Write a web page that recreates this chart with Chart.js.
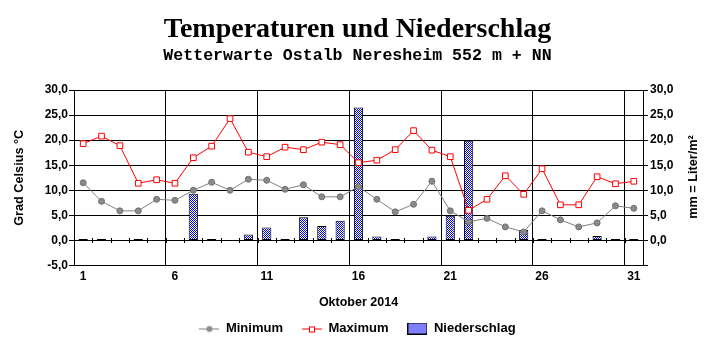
<!DOCTYPE html>
<html>
<head>
<meta charset="utf-8">
<title>Temperaturen und Niederschlag</title>
<script src="https://cdn.jsdelivr.net/npm/chart.js@4.4.1/dist/chart.umd.min.js"></script>
<style>
    body { margin: 0; background: #fff; }
    #wrap { position: relative; width: 715px; height: 352px; }
    #chart { position: absolute; left: 0; top: 0; }
    #title {
        position: absolute; left: 0; top: 14px; width: 715px; text-align: center;
        font: bold 28px/28px "Liberation Serif", "Times New Roman", serif; color: #000;
    }
    #subtitle {
        position: absolute; left: 0; top: 48px; width: 715px; text-align: center;
        font: bold 16.6px/16px "Liberation Mono", "Courier New", monospace; color: #000;
    }
    #rightTitle {
        position: absolute; left: 593px; top: 169px; width: 200px; text-align: center;
        font: bold 12.7px/16px "Liberation Sans", Arial, sans-serif; color: #000;
        transform: rotate(-90deg); transform-origin: 100px 8px;
    }
</style>
</head>
<body>
<div id="wrap">
    <canvas id="chart" width="715" height="352"></canvas>
    <div id="title">Temperaturen und Niederschlag</div>
    <div id="subtitle">Wetterwarte Ostalb Neresheim 552 m + NN</div>
    <div id="rightTitle">mm = Liter/m²</div>
</div>
<script>
// ==========================
// DATA (Oktober 2014)
// ==========================
const days = ["1", "2", "3", "4", "5", "6", "7", "8", "9", "10",
    "11", "12", "13", "14", "15", "16", "17", "18", "19", "20",
    "21", "22", "23", "24", "25", "26", "27", "28", "29", "30", "31"];

const tempMin = [11.5, 7.8, 5.9, 5.9, 8.2, 8.0, 10.0, 11.6, 10.0, 12.2,
    12.0, 10.2, 11.1, 8.7, 8.7, 10.7, 8.2, 5.7, 7.2, 11.8,
    5.9, 3.7, 4.4, 2.7, 1.7, 5.9, 4.1, 2.7, 3.5, 6.9, 6.4];

const tempMax = [19.3, 20.8, 18.9, 11.4, 12.1, 11.4, 16.5, 18.8, 24.3, 17.6,
    16.7, 18.6, 18.1, 19.6, 19.1, 15.5, 16.0, 18.1, 21.9, 18.0,
    16.7, 6.0, 8.2, 12.9, 9.2, 14.3, 7.1, 7.1, 12.7, 11.3, 11.8];

const rain = [0.3, 0.3, 0, 0.3, 0, 0, 9.3, 0.3, 0, 1.2,
    2.6, 0.3, 4.6, 2.9, 3.9, 26.5, 0.8, 0.3, 0, 0.8,
    4.9, 19.9, 0, 0, 2.1, 0.3, 0, 0, 0.9, 0.3, 0.3];

const axisMin = -5;
const axisMax = 30;
const axisStep = 5;

// ==========================
// STYLE HELPERS
// ==========================
const FONT = "'Liberation Sans', Arial, sans-serif";
Chart.defaults.font.family = FONT;
Chart.defaults.font.size = 12;
Chart.defaults.font.weight = "bold";
Chart.defaults.color = "#000";

function dotPattern() {
    let c = document.createElement("canvas");
    c.width = 2;
    c.height = 2;
    let g = c.getContext("2d");
    g.fillStyle = "#fff";
    g.fillRect(0, 0, 2, 2);
    g.fillStyle = "#0000ff";
    g.fillRect(0, 0, 1, 1);
    g.fillRect(1, 1, 1, 1);
    return g.createPattern(c, "repeat");
}
const rainFill = dotPattern();

// small legend pictures: line with marker, and hatched box
function legendIcon(kind) {
    let c = document.createElement("canvas");
    c.width = 20;
    c.height = 12;
    let g = c.getContext("2d");
    if (kind === "box") {
        g.fillStyle = "#000";
        g.fillRect(0, 0, 20, 12);
        g.fillStyle = rainFill;
        g.fillRect(1, 1, 18, 10);
        return c;
    }
    let col = kind === "min" ? "#808080" : "#ff0000";
    g.strokeStyle = col;
    g.lineWidth = 1;
    g.beginPath();
    g.moveTo(0, 6.5);
    g.lineTo(20, 6.5);
    g.stroke();
    if (kind === "min") {
        g.fillStyle = "#8a8a8a";
        g.beginPath();
        g.arc(10, 6.5, 3, 0, Math.PI * 2);
        g.fill();
    } else {
        g.fillStyle = "#fff";
        g.fillRect(7, 4, 6, 6);
        g.strokeRect(7.5, 4.5, 5, 5);
    }
    return c;
}

function fmt(v) {
    return v.toFixed(1).replace(".", ",");
}

// short marks on the zero line between the days
const zeroTicks = {
    id: "zeroTicks",
    beforeDatasetsDraw(chart) {
        let x = chart.scales.x;
        let y0 = Math.round(chart.scales.y.getPixelForValue(0));
        let ctx = chart.ctx;
        ctx.save();
        ctx.strokeStyle = "#000";
        ctx.lineWidth = 1;
        ctx.beginPath();
        for (let i = 0; i < days.length - 1; i++) {
            let xm = Math.round((x.getPixelForValue(i) + x.getPixelForValue(i + 1)) / 2) + 0.5;
            ctx.moveTo(xm, y0 - 2);
            ctx.lineTo(xm, y0 + 3);
        }
        ctx.stroke();
        ctx.restore();
    }
};

// ==========================
// CHART
// ==========================
let ctx = document.getElementById("chart").getContext("2d");

new Chart(ctx, {
    data: {
        labels: days,
        datasets: [
            {
                type: "line",
                label: "Minimum",
                data: tempMin,
                yAxisID: "y",
                order: 1,
                borderColor: "#808080",
                borderWidth: 1,
                pointStyle: "circle",
                pointRadius: 3,
                pointBackgroundColor: "#8a8a8a",
                pointBorderColor: "#707070",
                pointBorderWidth: 1,
                tension: 0
            },
            {
                type: "line",
                label: "Maximum",
                data: tempMax,
                yAxisID: "y",
                order: 2,
                borderColor: "#ff0000",
                borderWidth: 1,
                pointStyle: "rect",
                pointRadius: 4,
                pointBackgroundColor: "#fff",
                pointBorderColor: "#ff0000",
                pointBorderWidth: 1,
                tension: 0
            },
            {
                type: "bar",
                label: "Niederschlag",
                data: rain,
                yAxisID: "y2",
                order: 3,
                backgroundColor: rainFill,
                borderColor: "#000",
                borderWidth: 1,
                borderSkipped: false,
                barPercentage: 1,
                categoryPercentage: 0.5
            }
        ]
    },
    options: {
        responsive: false,
        animation: false,
        layout: { padding: { top: 90, left: 0, right: 0, bottom: 7 } },
        plugins: {
            tooltip: { enabled: false },
            legend: {
                position: "bottom",
                labels: {
                    usePointStyle: true,
                    pointStyleWidth: 20,
                    boxHeight: 12,
                    padding: 19,
                    font: { size: 13, weight: "bold" },
                    generateLabels: function (chart) {
                        let icons = [legendIcon("min"), legendIcon("max"), legendIcon("box")];
                        return chart.data.datasets.map(function (ds, i) {
                            return {
                                text: ds.label,
                                pointStyle: icons[i],
                                fillStyle: "#fff",
                                strokeStyle: "#fff",
                                lineWidth: 0,
                                fontColor: "#000",
                                datasetIndex: i
                            };
                        });
                    }
                }
            }
        },
        scales: {
            x: {
                type: "category",
                offset: true,
                grid: {
                    offset: true,
                    drawTicks: false,
                    lineWidth: 1,
                    color: function (c) {
                        if (c.index === undefined || c.index % 5 === 0) return "#000";
                        return "rgba(0,0,0,0)";
                    }
                },
                border: { color: "#000" },
                ticks: {
                    autoSkip: false,
                    maxRotation: 0,
                    padding: 4,
                    callback: function (v, i) {
                        return i % 5 === 0 ? days[i] : "";
                    }
                },
                title: {
                    display: true,
                    text: "Oktober 2014",
                    font: { size: 12.5, weight: "bold" },
                    padding: { top: 0, bottom: -7 }
                },
                afterFit: function (s) { s.height = 37.5; }
            },
            y: {
                position: "left",
                min: axisMin,
                max: axisMax,
                ticks: { stepSize: axisStep, padding: 1, callback: fmt },
                grid: { color: "#000", tickColor: "#000", tickLength: 5, lineWidth: 1 },
                border: { color: "#000" },
                title: {
                    display: true,
                    text: "Grad Celsius °C",
                    font: { size: 12.7, weight: "bold" },
                    padding: { top: 12, bottom: 0 }
                },
                afterFit: function (s) { s.width = 74; }
            },
            y2: {
                position: "right",
                min: axisMin,
                max: axisMax,
                ticks: {
                    stepSize: axisStep,
                    padding: 2,
                    callback: function (v) { return v < 0 ? "" : fmt(v); }
                },
                grid: { drawOnChartArea: false, tickColor: "#000", tickLength: 5 },
                border: { color: "#000" },
                afterFit: function (s) { s.width = 72; }
            }
        }
    },
    plugins: [zeroTicks]
});
</script>
</body>
</html>
